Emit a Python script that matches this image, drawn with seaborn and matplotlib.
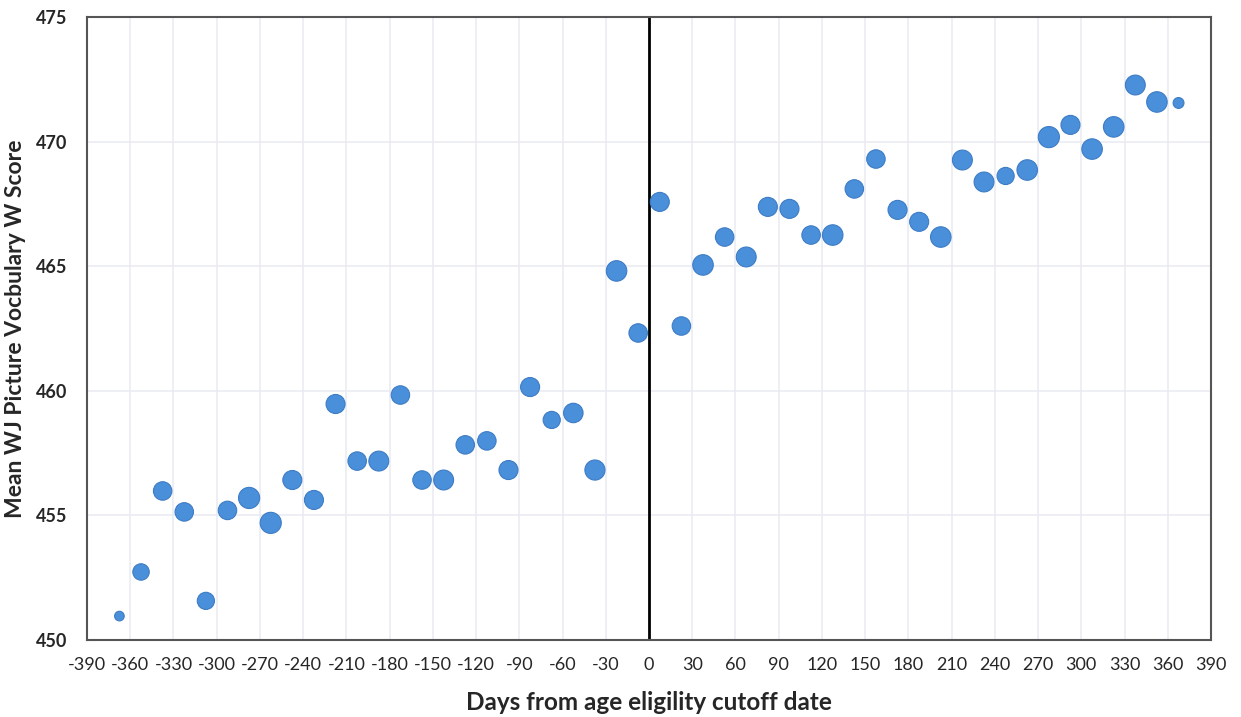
import matplotlib
matplotlib.use("Agg")

import matplotlib.pyplot as plt
import pandas as pd
import seaborn as sns
import numpy as np

# Bin midpoints (days from cutoff), mean W score and approximate group size per bin
days = [-367.5, -352.5, -337.5, -322.5, -307.5, -292.5, -277.5, -262.5, -247.5, -232.5,
        -217.5, -202.5, -187.5, -172.5, -157.5, -142.5, -127.5, -112.5, -97.5, -82.5,
        -67.5, -52.5, -37.5, -22.5, -7.5, 7.5, 22.5, 37.5, 52.5, 67.5,
        82.5, 97.5, 112.5, 127.5, 142.5, 157.5, 172.5, 187.5, 202.5, 217.5,
        232.5, 247.5, 262.5, 277.5, 292.5, 307.5, 322.5, 337.5, 352.5, 367.5]
score = [450.96, 452.73, 455.98, 455.14, 451.57, 455.20, 455.70, 454.70, 456.42, 455.62,
         459.47, 457.18, 457.18, 459.83, 456.42, 456.42, 457.83, 457.99, 456.82, 460.15,
         458.83, 459.11, 456.82, 464.81, 462.32, 467.58, 462.60, 465.05, 466.17, 465.37,
         467.38, 467.30, 466.25, 466.25, 468.10, 469.30, 467.26, 466.78, 466.17, 469.26,
         468.38, 468.62, 468.86, 470.18, 470.67, 469.70, 470.59, 472.27, 471.59, 471.55]
n_children = [22, 64, 81, 81, 70, 81, 106, 106, 86, 86,
              86, 81, 94, 81, 81, 94, 81, 81, 86, 86,
              70, 90, 96, 100, 81, 86, 81, 100, 81, 94,
              86, 86, 81, 100, 81, 81, 86, 86, 100, 94,
              94, 70, 100, 106, 86, 100, 100, 94, 100, 28]

x_ticks = list(range(-390, 391, 30))
y_ticks = [450, 455, 460, 465, 470, 475]

df = pd.DataFrame({"days": days, "score": score, "n": n_children})

sns.set_style("white")
plt.rcParams["font.family"] = ["Lato", "DejaVu Sans"]

fig, ax = plt.subplots(figsize=(12.41, 7.17), dpi=100)
fig.subplots_adjust(left=0.0701, right=0.9758, top=0.9763, bottom=0.1074)

ax.set_axisbelow(True)
for xt in x_ticks:
    ax.axvline(xt, color="#e9ebf2", lw=1.1, zorder=0)
for yt in y_ticks:
    ax.axhline(yt, color="#e9ebf2", lw=1.1, zorder=0)

sns.scatterplot(data=df, x="days", y="score", size="n", sizes=(0, 240), size_norm=(0, 110),
                color="#4a8fd9", edgecolor="#3d7cc6", linewidth=0.8, alpha=1.0,
                legend=False, ax=ax, zorder=3)

ax.axvline(0, color="black", lw=2, zorder=2)

ax.set_xlim(-390, 390)
ax.set_ylim(450, 475)
ax.set_xticks(x_ticks)
ax.set_yticks(y_ticks)
ax.set_xticklabels([str(t) for t in x_ticks], fontsize=13)
ax.set_yticklabels([str(t) for t in y_ticks], fontsize=13, fontweight="bold")
ax.tick_params(axis="both", length=0, pad=12)
ax.tick_params(axis="y", pad=14)

for sp in ax.spines.values():
    sp.set_color("#555555")
    sp.set_linewidth(1.5)

ax.set_xlabel("Days from age eligility cutoff date", fontsize=17.5, fontweight="bold", labelpad=13)
ax.set_ylabel("Mean WJ Picture Vocbulary W Score", fontsize=16.5, fontweight="bold", labelpad=7)

fig.savefig("out.png", dpi=100)
